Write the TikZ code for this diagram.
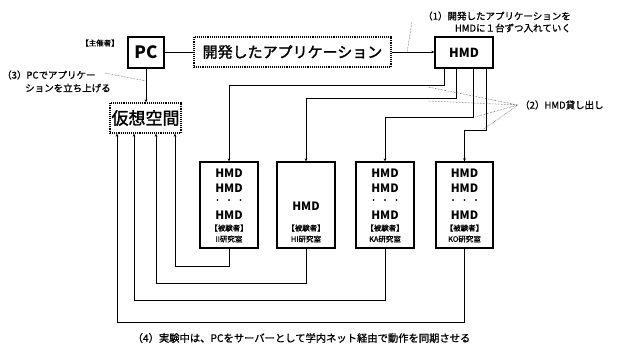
\documentclass[tikz,border=0pt]{standalone}
\usepackage{fontspec}
\setmainfont{Noto Sans CJK JP}
\newfontfamily\medfont[FakeBold=1]{Noto Sans CJK JP}
\newfontfamily\semifont[FakeBold=1.8]{Noto Sans CJK JP}
\usetikzlibrary{arrows.meta}
\newcommand\fsz[1]{\fontsize{#1}{#1}\selectfont}
\begin{document}
\begin{tikzpicture}[x=1pt,y=-1pt,
  box/.style={draw,line width=1.1pt,inner sep=0pt},
  dbox/.style={draw,densely dotted,line width=1.1pt,inner sep=0pt},
  con/.style={line width=1pt},
  arr/.style={con,-{Stealth[length=3.2pt,width=2.6pt]}},
  leader/.style={densely dotted,line width=0.5pt,black!75},
  lab/.style={font=\medfont\fsz{9.5},inner sep=0pt},
  txt/.style={inner sep=0pt},
  hmdt/.style={inner sep=0pt,font=\bfseries\fsz{11.5}},
  subt/.style={inner sep=0pt,font=\medfont\fsz{7.5}}]
\useasboundingbox (0,0) rectangle (619,349);
% main boxes
\node[box,minimum width=36pt,minimum height=31pt,font=\bfseries\fsz{17}] (pc) at (146,52.5) {PC};
\node[dbox,minimum width=197pt,minimum height=30pt,font=\semifont\fsz{15}] (app) at (292.5,52) {開発したアプリケーション};
\node[box,minimum width=58pt,minimum height=31pt,font=\bfseries\fsz{12.5}] (hmd) at (464,52.5) {HMD};
\node[dbox,minimum width=71pt,minimum height=30pt,font=\semifont\fsz{17}] (kaso) at (145.5,118) {仮想空間};
\node[txt,font=\medfont\fsz{7.5}] (host) at (100,43) {【主催者】};
% lab boxes
\node[box,minimum width=58pt,minimum height=86pt] (b1) at (229,205) {};
\node[box,minimum width=58pt,minimum height=86pt] (b2) at (306,205) {};
\node[box,minimum width=58pt,minimum height=86pt] (b3) at (385,205) {};
\node[box,minimum width=57pt,minimum height=86pt] (b4) at (464.5,205) {};
% box texts
\node[hmdt] (b1a) at (229,173) {HMD};
\node[hmdt] (b1b) at (229,188) {HMD};
\node[subt] (b1c) at (229,201) {・\hspace{4pt}・\hspace{4pt}・};
\node[hmdt] (b1d) at (229,215) {HMD};
\node[subt] (b1e) at (229,228) {【被験者】};
\node[subt] (b1f) at (229,239) {II研究室};
\node[hmdt] (b2a) at (306,206) {HMD};
\node[subt] (b2e) at (306,228) {【被験者】};
\node[subt] (b2f) at (306,239) {HI研究室};
\node[hmdt] (b3a) at (385,173) {HMD};
\node[hmdt] (b3b) at (385,188) {HMD};
\node[subt] (b3c) at (385,201) {・\hspace{4pt}・\hspace{4pt}・};
\node[hmdt] (b3d) at (385,215) {HMD};
\node[subt] (b3e) at (385,228) {【被験者】};
\node[subt] (b3f) at (385,239) {KA研究室};
\node[hmdt] (b4a) at (464.5,173) {HMD};
\node[hmdt] (b4b) at (464.5,188) {HMD};
\node[subt] (b4c) at (464.5,201) {・\hspace{4pt}・\hspace{4pt}・};
\node[hmdt] (b4d) at (464.5,215) {HMD};
\node[subt] (b4e) at (464.5,228) {【被験者】};
\node[subt] (b4f) at (464.5,239) {KO研究室};
% labels
\node[lab,anchor=east] (l1a) at (571,16) {（1）開発したアプリケーションを};
\node[lab,anchor=east] (l1b) at (571,28) {HMDに１台ずつ入れていく};
\node[lab,anchor=west] (l2) at (520,105) {（2）HMD貸し出し};
\node[lab,anchor=west] (l3a) at (2,75) {（3）PCでアプリケー};
\node[lab,anchor=west] (l3b) at (25,88) {ションを立ち上げる};
\node[lab,font=\medfont\fsz{10.3}] (l4) at (301.5,338) {（4）実験中は、PCをサーバーとして学内ネット経由で動作を同期させる};
% connectors
\draw[con] (pc.east) -- (pc.east -| app.west);
\draw[arr] (app.east) -- (app.east -| hmd.west);
\draw[arr] (pc.south) -- (pc.south |- kaso.north);
\draw[arr] (444,0 |- hmd.south) |- (229,85) -- (b1.north);
\draw[arr] (456,0 |- hmd.south) |- (306,98) -- (b2.north);
\draw[arr] (473,0 |- hmd.south) |- (385,117) -- (b3.north);
\draw[arr] (486,0 |- hmd.south) |- (464.5,130) -- (b4.north);
\draw[arr] (b1.south) |- (175,266) -- (175,0 |- kaso.south);
\draw[arr] (b2.south) |- (156,283) -- (156,0 |- kaso.south);
\draw[arr] (b3.south) |- (134,300) -- (134,0 |- kaso.south);
\draw[arr] (b4.south) |- (117,322) -- (117,0 |- kaso.south);
% leaders
\coordinate (c1) at (412,22);
\coordinate (c1e) at (407,52);
\draw[leader] (c1) -- (c1e);
\coordinate (c3) at (105,73);
\coordinate (c3e) at (146,81);
\draw[leader] (c3) -- (c3e);
\coordinate (c2) at (518,105);
\coordinate (e1) at (428,87);
\coordinate (e2) at (428,101);
\coordinate (e3) at (475,117);
\coordinate (e4) at (484,129);
\draw[leader] (c2) -- (e1) (c2) -- (e2) (c2) -- (e3) (c2) -- (e4);
\end{tikzpicture}
\end{document}
